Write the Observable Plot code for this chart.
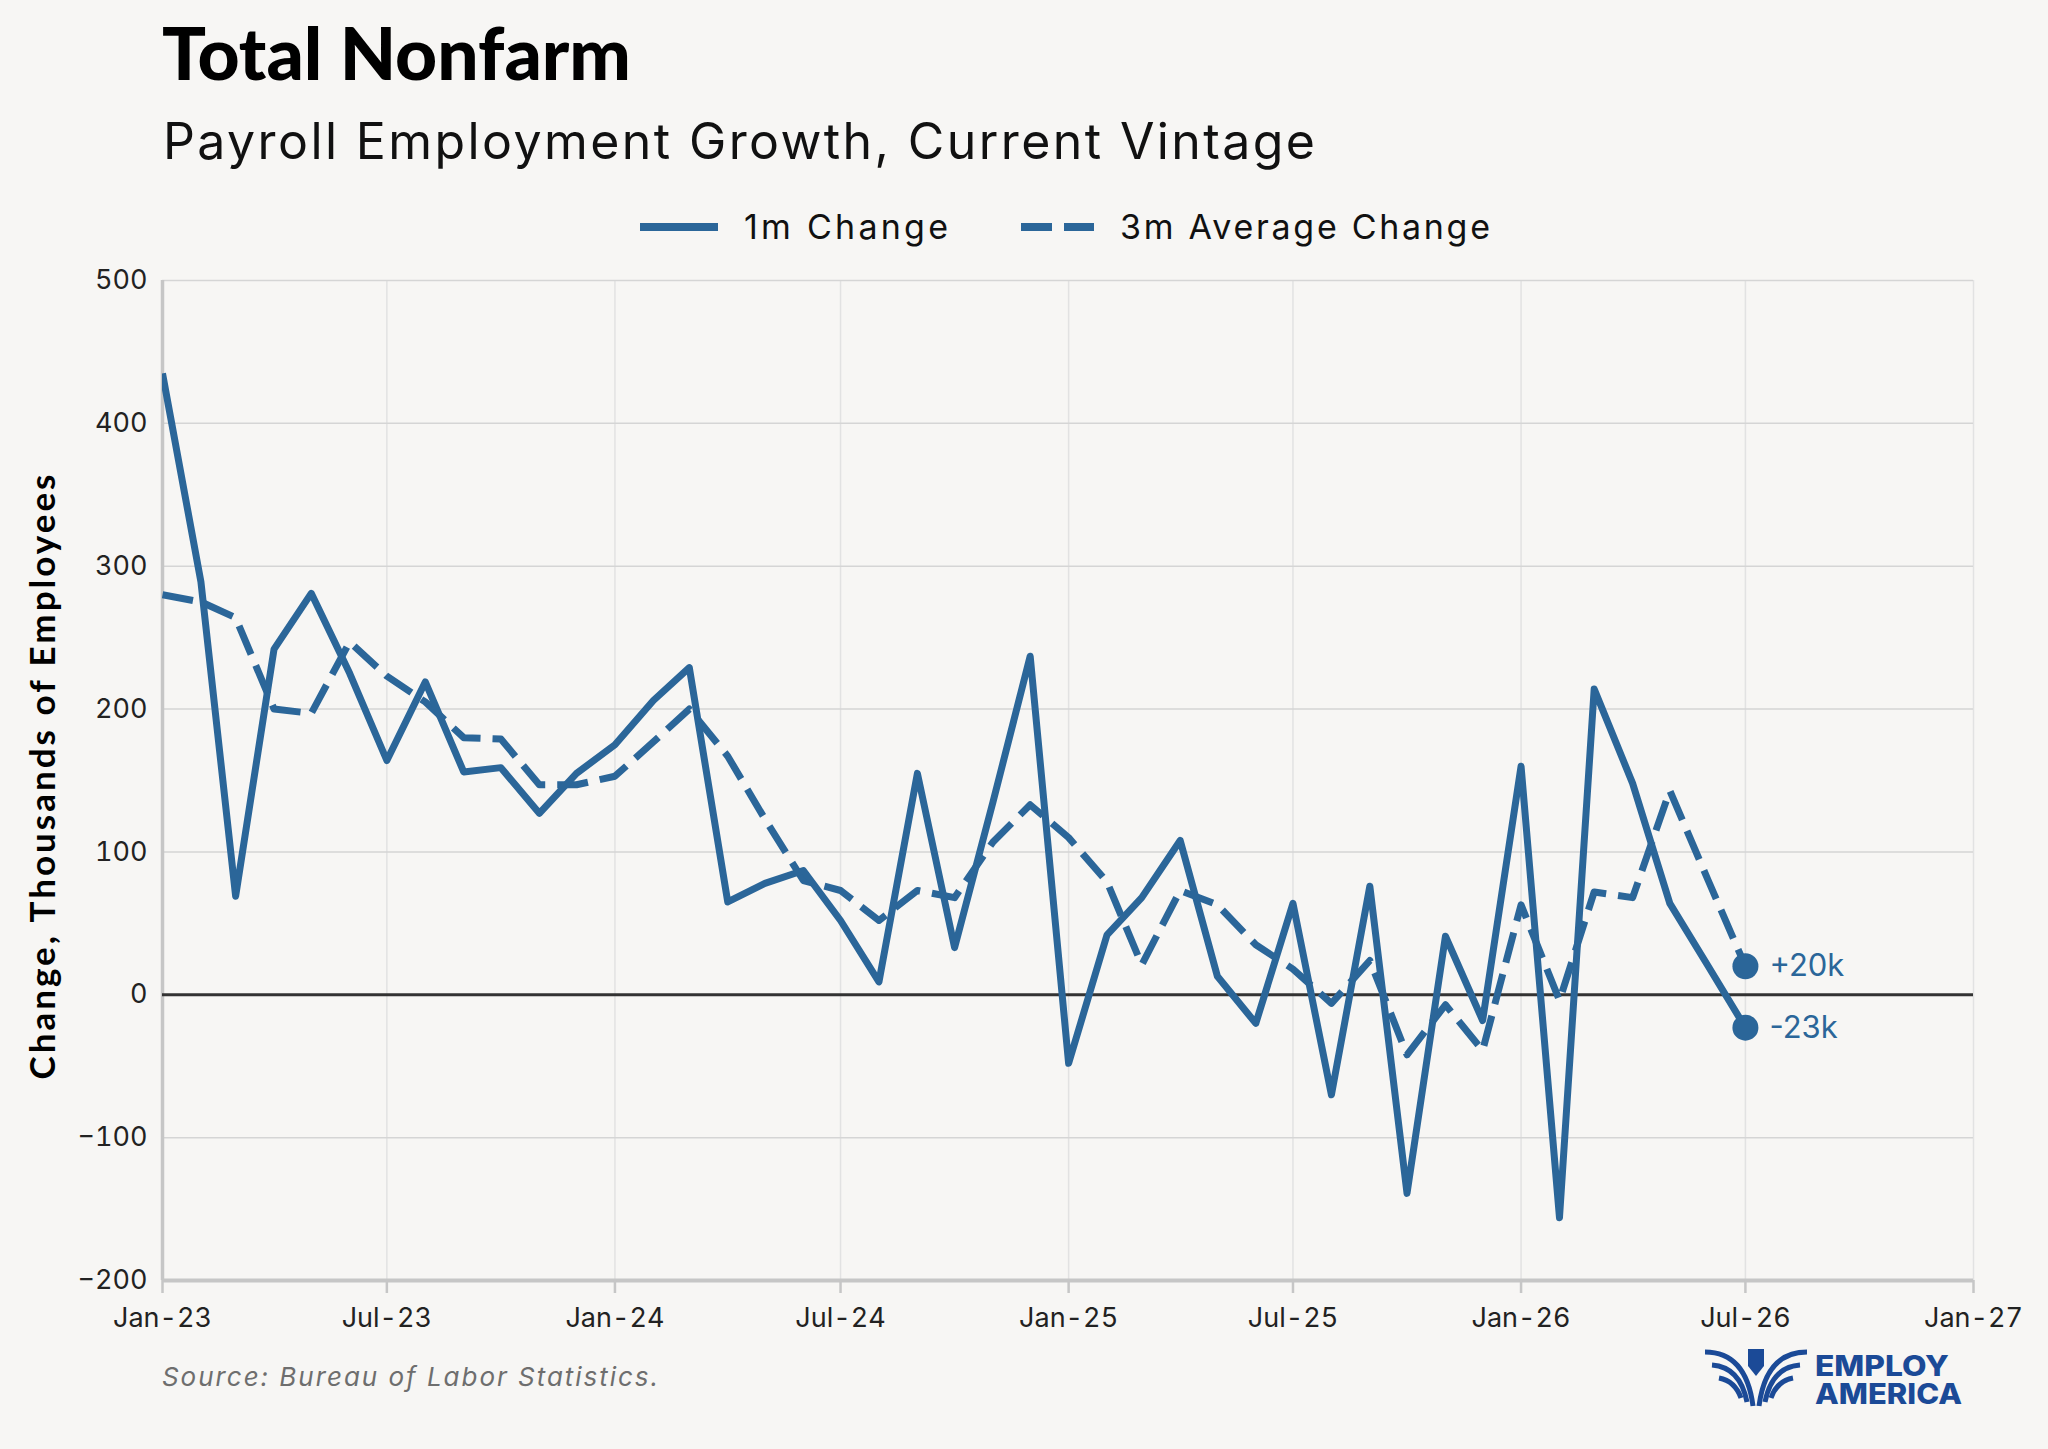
<!DOCTYPE html>
<html>
<head>
<meta charset="utf-8">
<script src="https://cdn.jsdelivr.net/npm/d3@7"></script>
<script src="https://cdn.jsdelivr.net/npm/@observablehq/plot@0.6"></script>
<style>
  html, body { margin: 0; padding: 0; background: #f7f6f4; }
  body { width: 2048px; height: 1449px; position: relative; overflow: hidden; font-family: Inter, "Open Sans", sans-serif; }
  #chart { position: absolute; left: 0; top: 250px; }
  #overlay { position: absolute; left: 0; top: 0; pointer-events: none; }
  #chart svg { overflow: visible; }
</style>
</head>
<body>
<div id="chart"></div>
<svg id="overlay" width="2048" height="1449" xmlns="http://www.w3.org/2000/svg">
  <text x="162" y="80" font-family="Lato" font-weight="900" font-size="72" fill="#000" textLength="469" lengthAdjust="spacingAndGlyphs">Total Nonfarm</text>
  <text x="163" y="159" font-family="Inter" font-weight="400" font-size="50" fill="#111" textLength="1152" lengthAdjust="spacing">Payroll Employment Growth, Current Vintage</text>
  <line x1="640" y1="227" x2="718" y2="227" stroke="#2b6699" stroke-width="8"/>
  <text x="744" y="239" font-family="Inter" font-size="34" fill="#111" textLength="204" lengthAdjust="spacing">1m Change</text>
  <line x1="1021" y1="227" x2="1094" y2="227" stroke="#2b6699" stroke-width="8" stroke-dasharray="31,12"/>
  <text x="1120" y="239" font-family="Inter" font-size="34" fill="#111" textLength="370" lengthAdjust="spacing">3m Average Change</text>
  <text id="ylab" transform="translate(55,777) rotate(-90)" text-anchor="middle" font-family="Lato" font-weight="700" font-size="35" fill="#000" textLength="605" lengthAdjust="spacing">Change, Thousands of Employees</text>
  <text x="162" y="1386" font-family="Inter" font-style="italic" font-size="26" fill="#6e6e6e" textLength="496" lengthAdjust="spacing">Source: Bureau of Labor Statistics.</text>
  <g fill="none" stroke="#1b4a97" stroke-width="5" stroke-linecap="butt">
    <path d="M1705,1352 Q1746,1352 1753,1406"/>
    <path d="M1712,1365 Q1740,1367 1747,1402"/>
    <path d="M1719,1378 Q1735,1381 1741,1398"/>
    <path d="M1807,1352 Q1766,1352 1759,1406"/>
    <path d="M1800,1365 Q1772,1367 1765,1402"/>
    <path d="M1793,1378 Q1777,1381 1771,1398"/>
  </g>
  <path d="M1748,1349 L1764,1349 L1764,1366 L1756,1376 L1748,1366 Z" fill="#1b4a97"/>
  <text x="1815" y="1376" font-family="Inter" font-weight="800" font-size="28" fill="#1b4a97" textLength="134" lengthAdjust="spacingAndGlyphs">EMPLOY</text>
  <text x="1815" y="1404" font-family="Inter" font-weight="800" font-size="28" fill="#1b4a97" textLength="147" lengthAdjust="spacingAndGlyphs">AMERICA</text>
</svg>
<script>
// ---- Data (thousands of employees) ----
const startMonth = "Jan-23";
const monthCount = 43; // Jan-23 .. Jul-26
const oneMonthChange = [
  435, 289, 69, 242, 281, 225, 164, 219, 156, 159, 127, 155,
  175, 206, 229, 65, 78, 87, 52, 9, 155, 33, 135, 237,
  -48, 42, 68, 108, 13, -20, 64, -70, 76, -139, 41, -18,
  160, -156, 214, 148, 64, 20, -23
];
const threeMonthAvg = [
  280, 275, 264, 200, 197, 247, 223, 205, 180, 179, 147, 147,
  153, 177, 200, 167, 123, 80, 73, 52, 73, 68, 107, 133,
  110, 79, 21, 73, 63, 35, 18, -6, 24, -42, -7, -39,
  63, -4, 72, 68, 143, 80, 20
];
const xTickLabels = ["Jan-23","Jul-23","Jan-24","Jul-24","Jan-25","Jul-25","Jan-26","Jul-26","Jan-27"];
const yTicks = [-200, -100, 0, 100, 200, 300, 400, 500];
const endLabels = ["+20k", "-23k"];

// ---- Build tables ----
const parse = d3.utcParse("%b-%y");
const fmt = d3.utcFormat("%b-%y");
const t0 = parse(startMonth);
const months = d3.utcMonth.range(t0, d3.utcMonth.offset(t0, monthCount));
const one = months.map((d, i) => ({date: d, value: oneMonthChange[i]}));
const three = months.map((d, i) => ({date: d, value: threeMonthAvg[i]}));
const xTicks = xTickLabels.map(parse);
const lastDate = months[months.length - 1];
const ends = [
  {date: lastDate, value: threeMonthAvg[threeMonthAvg.length - 1], label: endLabels[0]},
  {date: lastDate, value: oneMonthChange[oneMonthChange.length - 1], label: endLabels[1]}
];

const blue = "#2b6699";
const chart = Plot.plot({
  width: 2048,
  height: 1110,
  marginTop: 30,
  marginBottom: 80,
  marginLeft: 162,
  marginRight: 75,
  style: {background: "transparent", fontFamily: "Inter, sans-serif", fontSize: "27px", color: "#222"},
  x: {type: "utc", domain: [xTicks[0], xTicks[xTicks.length - 1]], label: null},
  y: {domain: [-200, 500], label: null},
  marks: [
    Plot.ruleX(xTicks, {stroke: "#e2e2e2", strokeWidth: 1.5}),
    Plot.ruleY(yTicks, {stroke: "#d5d5d5", strokeWidth: 1.5}),
    Plot.ruleX([xTicks[0]], {y1: -200, y2: 500, stroke: "#c6c6c6", strokeWidth: 3.5}),
    Plot.ruleY([-200], {stroke: "#c6c6c6", strokeWidth: 4}),
    Plot.axisX({ticks: xTicks, tickFormat: fmt, tickSize: 13, tickPadding: 14, stroke: "#c6c6c6", strokeWidth: 2.5, fontSize: 27, label: null}),
    Plot.axisY({ticks: yTicks, tickSize: 0, tickPadding: 15, fontSize: 27, label: null}),
    Plot.ruleY([0], {stroke: "#333", strokeWidth: 3}),
    Plot.line(three, {x: "date", y: "value", stroke: blue, strokeWidth: 7, strokeDasharray: "31,12", strokeLinecap: "butt", strokeLinejoin: "round", clip: true}),
    Plot.line(one, {x: "date", y: "value", stroke: blue, strokeWidth: 7, strokeLinejoin: "round", strokeLinecap: "butt", clip: true}),
    Plot.dot(ends, {x: "date", y: "value", r: 13, fill: blue, stroke: "none"}),
    Plot.text(ends, {x: "date", y: "value", text: "label", dx: 24, textAnchor: "start", fill: blue, fontSize: 31})
  ]
});
document.getElementById("chart").appendChild(chart);
</script>
</body>
</html>
